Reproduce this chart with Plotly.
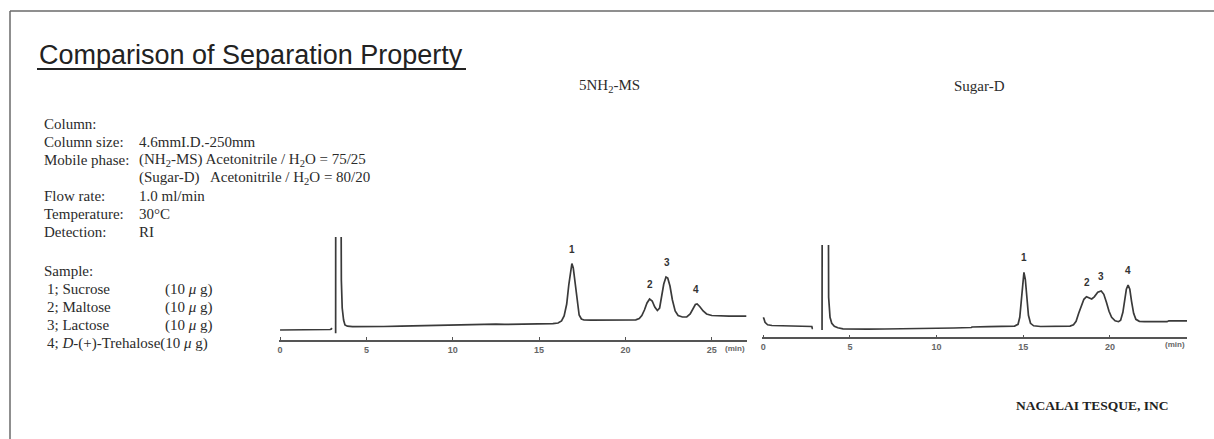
import plotly.graph_objects as go

W, H = 1214, 439

# 5NH2-MS chromatogram (min, detector response in arbitrary units); None = pen gap
nh2_time = [0.0, 0.5, 1.0, 1.5, 2.0, 2.5, 2.9, 2.97, 3.0, None,
            3.22, 3.23, 3.50, 3.55, 3.6, 3.68, 3.76, 3.9, 4.2, 5.0, 6.0, 7.0, 8.0, 9.0,
            10.0, 11.0, 11.7, 12.0, 12.5, 13.0, 14.0, 15.0, 15.8, 16.1, 16.3, 16.45,
            16.6, 16.72, 16.82, 16.9, 16.98, 17.08, 17.2, 17.32, 17.45, 17.6, 18.0,
            19.0, 20.0, 20.6, 20.8, 20.95, 21.1, 21.25, 21.4, 21.55, 21.7, 21.85,
            21.98, 22.1, 22.22, 22.35, 22.45, 22.58, 22.72, 22.88, 23.05, 23.3, 23.55,
            23.75, 23.9, 24.05, 24.15, 24.3, 24.5, 24.7, 25.0, 25.5, 26.0, 27.0]
nh2_signal = [10.0, 10.0, 10.1, 10.2, 10.3, 10.4, 10.5, 11.0, 12.0, None,
              6.7, 300, 300, 60, 32, 20, 15, 13.8, 13.4, 13.3, 13.5, 13.8, 14.2, 14.5,
              14.8, 15.2, 15.6, 16.0, 15.8, 15.6, 15.8, 16.0, 16.3, 17.0, 19.0, 24,
              36, 55, 70, 76.5, 72, 58, 38, 25, 21, 20, 19.8,
              19.8, 20.0, 20.2, 21.5, 24.5, 30, 37, 41, 39, 33, 29.5,
              32, 43, 56, 63, 62, 54, 40, 29, 24.5, 23, 23.2,
              26, 31, 35.5, 36, 33.5, 29, 26, 24.5, 24.0, 23.8, 23.8]
nh2_peak_time = [16.9, 21.4, 22.4, 24.1]
nh2_peak_height = [76.5, 41, 63, 36]
nh2_ticks = [0, 5, 10, 15, 20, 25]

# Sugar-D chromatogram
sugar_time = [0.0, 0.03, 0.1, 0.25, 0.5, 1.0, 1.5, 2.0, 2.5, 2.8, 2.83, 2.87, None,
              3.39, 3.41, 3.73, 3.77, 3.85, 3.95, 4.1, 4.3, 4.6, 5.0, 6.0, 7.0, 8.0,
              9.0, 10.0, 11.0, 12.0, 12.05, 13.0, 14.0, 14.5, 14.7, 14.8, 14.88, 14.96,
              15.04, 15.12, 15.2, 15.3, 15.42, 15.6, 16.0, 17.0, 17.7, 17.9, 18.05,
              18.2, 18.35, 18.5, 18.65, 18.8, 18.95, 19.1, 19.3, 19.5, 19.65, 19.8,
              19.95, 20.1, 20.3, 20.5, 20.62, 20.75, 20.85, 20.95, 21.05, 21.15, 21.25,
              21.37, 21.5, 21.7, 22.0, 22.5, 23.0, 23.3, 23.4, 24.45]
sugar_signal = [20, 19, 15, 12.5, 11.8, 11.6, 11.4, 11.2, 11.0, 10.8, 8.8, 8.8, None,
                7.3, 300, 300, 40, 20, 14, 11, 9.5, 8.5, 8.2, 8.2, 8.3, 8.4,
                8.7, 9.0, 9.3, 9.8, 10.3, 10.6, 10.8, 11.2, 13, 20, 35, 55,
                65, 58, 40, 22, 14, 11.5, 10.8, 10.8, 11.2, 12.5, 16,
                24, 32, 38, 40.6, 39.8, 38.3, 40.5, 45, 46.3, 43, 35,
                26, 20, 16.5, 15.6, 17, 25, 38, 48, 52.3, 48, 36,
                24, 18, 16, 15.6, 15.5, 15.6, 15.6, 16.5, 16.5]
sugar_peak_time = [15.04, 18.7, 19.5, 21.05]
sugar_peak_height = [65, 40.6, 46.3, 52.3]
sugar_ticks = [0, 5, 10, 15, 20]

peak_labels = ["1", "2", "3", "4"]
column_names = ["5NH<sub>2</sub>-MS", "Sugar-D"]

condition_labels = ["Column:", "Column size:", "Mobile phase:", "", "Flow rate:",
                    "Temperature:", "Detection:"]
condition_values = ["", "4.6mmI.D.-250mm",
                    "(NH<sub>2</sub>-MS) Acetonitrile / H<sub>2</sub>O = 75/25",
                    "(Sugar-D)\u00a0\u00a0 Acetonitrile / H<sub>2</sub>O = 80/20",
                    "1.0 ml/min", "30°C", "RI"]
sample_names = ["1; Sucrose", "2; Maltose", "3; Lactose"]
sample_amount = "(10 <i>μ</i> g)"
last_sample = "4; <i>D</i>-(+)-Trehalose(10 <i>μ</i> g)"

SERIF = "Liberation Serif"
SANS = "Liberation Sans"
INK = "#2b2b2b"


def px(x):
    return x / W


def py(y):
    return 1 - y / H


fig = go.Figure()
fig.add_trace(go.Scatter(x=nh2_time, y=nh2_signal, mode="lines", xaxis="x", yaxis="y",
                         line=dict(color="#3a3a3a", width=1.7), connectgaps=False,
                         hoverinfo="skip"))
fig.add_trace(go.Scatter(x=sugar_time, y=sugar_signal, mode="lines", xaxis="x2", yaxis="y2",
                         line=dict(color="#3a3a3a", width=1.7), connectgaps=False,
                         hoverinfo="skip"))

xcommon = dict(showline=True, linecolor="#555", linewidth=1.5, ticks="inside",
               tickcolor="#555", ticklen=3, tickwidth=1, showgrid=False, zeroline=False,
               tickfont=dict(family=SANS, size=9, color="#666", weight="bold"))
ycommon = dict(visible=False, showgrid=False, zeroline=False)

fig.update_layout(
    width=W, height=H,
    margin=dict(l=0, r=0, t=0, b=0),
    paper_bgcolor="white", plot_bgcolor="white",
    showlegend=False,
    xaxis=dict(domain=[px(279), px(747)], range=[-0.06, 27.04], anchor="y",
               tickvals=nh2_ticks, **xcommon),
    yaxis=dict(domain=[py(340), py(237)], range=[0, 103], anchor="x", **ycommon),
    xaxis2=dict(domain=[px(762), px(1187)], range=[-0.075, 24.45], anchor="y2",
                tickvals=sugar_ticks, **xcommon),
    yaxis2=dict(domain=[py(337.3), py(245)], range=[0, 92.3], anchor="x2", **ycommon),
)

ann = []
# peak numbers
for xr, yr, ts, hs in [("x", "y", nh2_peak_time, nh2_peak_height),
                       ("x2", "y2", sugar_peak_time, sugar_peak_height)]:
    for lab, t, h in zip(peak_labels, ts, hs):
        ann.append(dict(xref=xr, yref=yr, x=t, y=h, text=lab, showarrow=False,
                        yanchor="middle", yshift=14.5,
                        font=dict(family=SANS, size=10, color="#333", weight="bold")))
# (min) units
for xr, yr, shift in [("x domain", "y domain", -8), ("x2 domain", "y2 domain", -7)]:
    ann.append(dict(xref=xr, yref=yr, x=1, y=0, xanchor="right", yanchor="middle",
                    yshift=shift, text="(min)", showarrow=False,
                    font=dict(family=SANS, size=8, color="#666", weight="bold")))

# title
ann.append(dict(xref="paper", yref="paper", x=px(37), y=py(55), xanchor="left",
                yanchor="middle", text="Comparison of Separation Property", showarrow=False,
                font=dict(family=SANS, size=27, color="#222")))
# column names
for name, cx in zip(column_names, [609, 979]):
    ann.append(dict(xref="paper", yref="paper", x=px(cx), y=py(86), xanchor="center",
                    yanchor="middle", text=name, showarrow=False,
                    font=dict(family=SERIF, size=15, color=INK)))

# conditions
y0, dy = 124, 18
for i, (lab, val) in enumerate(zip(condition_labels, condition_values)):
    yy = py(y0 + i * dy)
    if lab:
        ann.append(dict(xref="paper", yref="paper", x=px(42), y=yy, xanchor="left",
                        yanchor="middle", text=lab, showarrow=False,
                        font=dict(family=SERIF, size=15, color=INK)))
    if val:
        ann.append(dict(xref="paper", yref="paper", x=px(137), y=yy, xanchor="left",
                        yanchor="middle", text=val, showarrow=False,
                        font=dict(family=SERIF, size=15, color=INK)))

# samples
s0 = 271
ann.append(dict(xref="paper", yref="paper", x=px(42), y=py(s0), xanchor="left",
                yanchor="middle", text="Sample:", showarrow=False,
                font=dict(family=SERIF, size=15, color=INK)))
for i, name in enumerate(sample_names):
    yy = py(s0 + (i + 1) * dy)
    ann.append(dict(xref="paper", yref="paper", x=px(45), y=yy, xanchor="left",
                    yanchor="middle", text=name, showarrow=False,
                    font=dict(family=SERIF, size=15, color=INK)))
    ann.append(dict(xref="paper", yref="paper", x=px(163), y=yy, xanchor="left",
                    yanchor="middle", text=sample_amount, showarrow=False,
                    font=dict(family=SERIF, size=15, color=INK)))
ann.append(dict(xref="paper", yref="paper", x=px(45), y=py(s0 + 4 * dy), xanchor="left",
                yanchor="middle", text=last_sample, showarrow=False,
                font=dict(family=SERIF, size=15, color=INK)))

# company
ann.append(dict(xref="paper", yref="paper", x=px(1170), y=py(405), xanchor="right",
                yanchor="middle", text="NACALAI TESQUE, INC", showarrow=False,
                font=dict(family=SERIF, size=13.5, color="#222", weight="bold")))

fig.update_layout(annotations=ann)

# page frame and title underline
fig.update_layout(shapes=[
    dict(type="line", xref="paper", yref="paper", x0=px(10), x1=1.01, y0=py(11), y1=py(11),
         line=dict(color="#6a6a6a", width=1.5)),
    dict(type="line", xref="paper", yref="paper", x0=px(10), x1=px(10), y0=py(11), y1=-0.02,
         line=dict(color="#6a6a6a", width=1.5)),
    dict(type="line", xref="paper", yref="paper", x0=px(37), x1=px(466), y0=py(69), y1=py(69),
         line=dict(color="#222", width=2)),
])

# drop the browser's default 8px body margin so the figure sits at the page origin
fig.write_html("out.html", config={"displayModeBar": False},
               post_script="document.body.style.margin='0';document.body.style.overflow='hidden';")
